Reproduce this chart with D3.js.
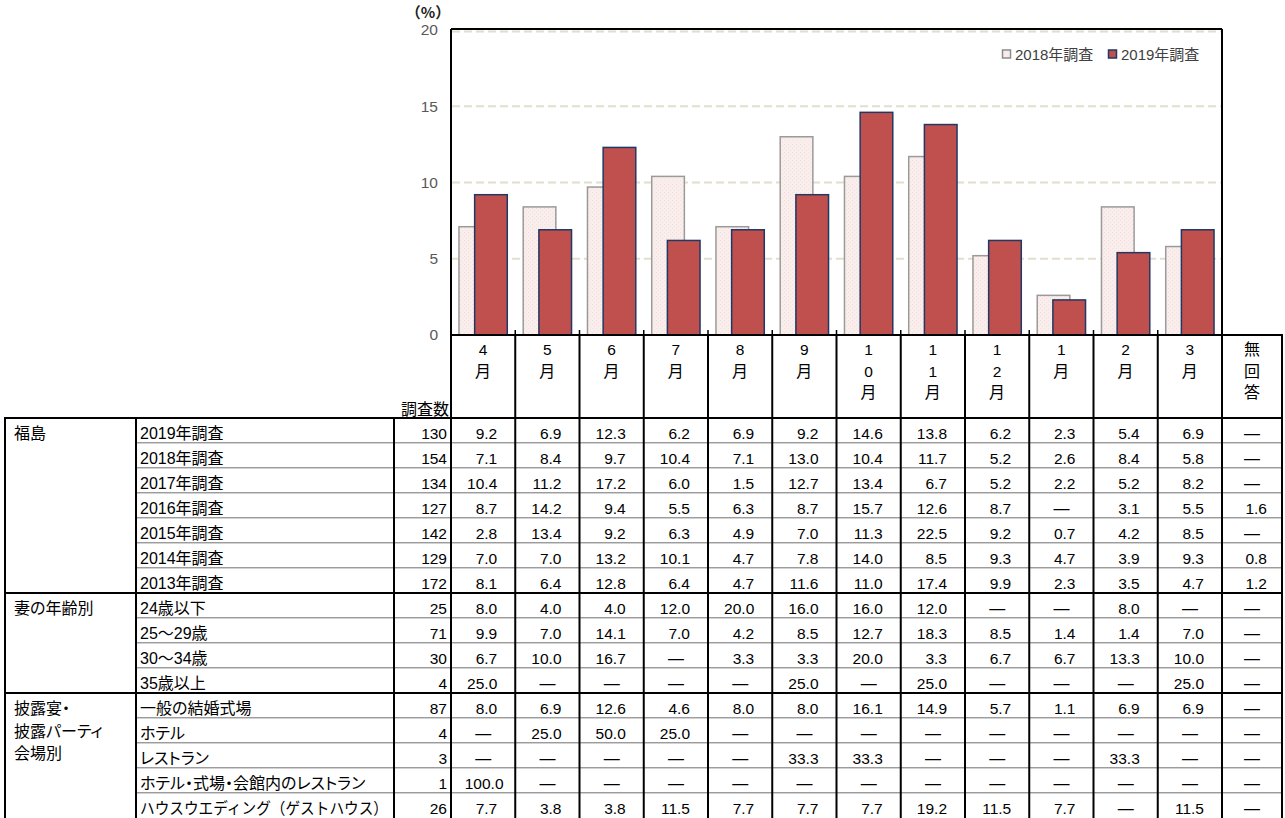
<!DOCTYPE html>
<html><head><meta charset="utf-8">
<script src="https://cdn.jsdelivr.net/npm/d3@7"></script>
<style>
body{margin:0;background:#fff}
svg{display:block}
text{font-family:"Liberation Sans","Noto Sans CJK JP",sans-serif;font-feature-settings:"palt";}
</style>
</head><body>
<svg id="c" width="1285" height="818"></svg>
<script>
// ---------------- data ----------------
const months = ["4月","5月","6月","7月","8月","9月","10月","11月","12月","1月","2月","3月"];
const headerLabels = [["4","月"],["5","月"],["6","月"],["7","月"],["8","月"],["9","月"],["1","0","月"],["1","1","月"],["1","2","月"],["1","月"],["2","月"],["3","月"],["無","回","答"]];
const seriesNames = ["2018年調査","2019年調査"];
const values2018 = [7.1, 8.4, 9.7, 10.4, 7.1, 13.0, 10.4, 11.7, 5.2, 2.6, 8.4, 5.8];
const values2019 = [9.2, 6.9, 12.3, 6.2, 6.9, 9.2, 14.6, 13.8, 6.2, 2.3, 5.4, 6.9];
const yTicks = [0, 5, 10, 15, 20];
const groupLabels = [["福島"], ["妻の年齢別"], ["披露宴・","披露パーティ","会場別"]];
const groupSizes = [7, 4, 5];
const rowLabels = ["2019年調査","2018年調査","2017年調査","2016年調査","2015年調査","2014年調査","2013年調査",
  "24歳以下","25～29歳","30～34歳","35歳以上",
  "一般の結婚式場","ホテル","レストラン","ホテル・式場・会館内のレストラン","ハウスウエディング（ゲストハウス）"];
const rowN = [130,154,134,127,142,129,172, 25,71,30,4, 87,4,3,1,26];
const _ = null;
const rowValues = [
  [9.2, 6.9, 12.3, 6.2, 6.9, 9.2, 14.6, 13.8, 6.2, 2.3, 5.4, 6.9, _],
  [7.1, 8.4, 9.7, 10.4, 7.1, 13.0, 10.4, 11.7, 5.2, 2.6, 8.4, 5.8, _],
  [10.4, 11.2, 17.2, 6.0, 1.5, 12.7, 13.4, 6.7, 5.2, 2.2, 5.2, 8.2, _],
  [8.7, 14.2, 9.4, 5.5, 6.3, 8.7, 15.7, 12.6, 8.7, _, 3.1, 5.5, 1.6],
  [2.8, 13.4, 9.2, 6.3, 4.9, 7.0, 11.3, 22.5, 9.2, 0.7, 4.2, 8.5, _],
  [7.0, 7.0, 13.2, 10.1, 4.7, 7.8, 14.0, 8.5, 9.3, 4.7, 3.9, 9.3, 0.8],
  [8.1, 6.4, 12.8, 6.4, 4.7, 11.6, 11.0, 17.4, 9.9, 2.3, 3.5, 4.7, 1.2],
  [8.0, 4.0, 4.0, 12.0, 20.0, 16.0, 16.0, 12.0, _, _, 8.0, _, _],
  [9.9, 7.0, 14.1, 7.0, 4.2, 8.5, 12.7, 18.3, 8.5, 1.4, 1.4, 7.0, _],
  [6.7, 10.0, 16.7, _, 3.3, 3.3, 20.0, 3.3, 6.7, 6.7, 13.3, 10.0, _],
  [25.0, _, _, _, _, 25.0, _, 25.0, _, _, _, 25.0, _],
  [8.0, 6.9, 12.6, 4.6, 8.0, 8.0, 16.1, 14.9, 5.7, 1.1, 6.9, 6.9, _],
  [_, 25.0, 50.0, 25.0, _, _, _, _, _, _, _, _, _],
  [_, _, _, _, _, 33.3, 33.3, _, _, _, 33.3, _, _],
  [100.0, _, _, _, _, _, _, _, _, _, _, _, _],
  [7.7, 3.8, 3.8, 11.5, 7.7, 7.7, 7.7, 19.2, 11.5, 7.7, _, 11.5, _]
];

// ---------------- layout ----------------
const svg = d3.select("#c");
const plotL = 451, plotR = 1222, yBase = 335, yTopPx = 30;
const naL = 1222, naR = 1282;
const tabL = 5, grpR = 136, nL = 394;
const tabTop = 418, rowH = 25, headTop = 335;

const x = d3.scaleBand().domain(months).range([plotL, plotR]).padding(0);
const y = d3.scaleLinear().domain([0, 20]).range([yBase, yTopPx]);
const bw = x.bandwidth();
const barW = bw * 0.508, barOff = bw * 0.244, span = barW + barOff;

const defs = svg.append("defs");
const pat = defs.append("pattern").attr("id","p18").attr("width",4).attr("height",4).attr("patternUnits","userSpaceOnUse");
pat.append("rect").attr("width",4).attr("height",4).attr("fill","#f9eeec");
pat.append("rect").attr("x",0).attr("y",0).attr("width",1).attr("height",1).attr("fill","#f1e0dd");
pat.append("rect").attr("x",2).attr("y",2).attr("width",1).attr("height",1).attr("fill","#f1e0dd");

// gridlines
svg.append("g").selectAll("line").data(yTicks.filter(d => d > 0)).join("line")
  .attr("x1", plotL + 1).attr("x2", plotR - 1)
  .attr("y1", d => y(d) + (d === 20 ? 1.5 : 0)).attr("y2", d => y(d) + (d === 20 ? 1.5 : 0))
  .attr("stroke", "#e2dece").attr("stroke-width", 2).attr("stroke-dasharray", "8,4");

// bars
const g18 = svg.append("g");
g18.selectAll("rect").data(values2018).join("rect")
  .attr("x", (d, i) => x(months[i]) + (bw - span) / 2)
  .attr("y", d => y(d)).attr("width", barW).attr("height", d => yBase - y(d))
  .attr("fill", "url(#p18)").attr("stroke", "#9a9a9a").attr("stroke-width", 1.5);
const g19 = svg.append("g");
g19.selectAll("rect").data(values2019).join("rect")
  .attr("x", (d, i) => x(months[i]) + (bw - span) / 2 + barOff)
  .attr("y", d => y(d)).attr("width", barW).attr("height", d => yBase - y(d))
  .attr("fill", "#c0504d").attr("stroke", "#1f3864").attr("stroke-width", 1.5);

// y axis labels
const yAxis = d3.axisLeft(y).tickValues(yTicks).tickSize(0).tickPadding(13).tickFormat(d3.format("d"));
const ya = svg.append("g").attr("transform", `translate(${plotL},0)`).call(yAxis);
ya.select(".domain").remove();
ya.selectAll("text").attr("font-size", 15.5).attr("fill", "#595959")
  .style("font-family", '"Liberation Sans",sans-serif');
svg.append("text").attr("x", 428).attr("y", 18).attr("text-anchor", "middle")
  .attr("font-size", 15).attr("font-weight", "bold").attr("fill", "#222")
  .style("font-family", '"Noto Sans CJK JP",sans-serif')
  .style("font-feature-settings", "normal").text("（%）");

// legend
const legX = [1002.5, 1108.5];
const leg = svg.append("g");
leg.selectAll("rect").data(seriesNames).join("rect")
  .attr("x", (d, i) => legX[i]).attr("y", 50).attr("width", 8).attr("height", 8)
  .attr("fill", (d, i) => i === 0 ? "#f8ecea" : "#c0504d")
  .attr("stroke", (d, i) => i === 0 ? "#8c8c8c" : "#1f3864").attr("stroke-width", 1.5);
leg.selectAll("text").data(seriesNames).join("text")
  .attr("x", (d, i) => legX[i] + 12.5).attr("y", 59.5)
  .attr("font-size", 15).attr("fill", "#404040").text(d => d);

// plot border, baseline and ticks
const K = "#000";
function line(x1, y1, x2, y2, w, c) {
  svg.append("line").attr("x1", x1).attr("y1", y1).attr("x2", x2).attr("y2", y2)
    .attr("stroke", c || K).attr("stroke-width", w || 2);
}
line(plotL, 29, plotR, 29, 2);
line(plotL, 29, plotL, 818, 2);
line(plotR, 29, plotR, 818, 2);
line(plotL, yBase, naR + 1, yBase, 2);
const bounds = months.map(m => x(m)).concat([plotR]);
svg.append("g").selectAll("line").data(bounds).join("line")
  .attr("x1", d => d).attr("x2", d => d).attr("y1", yBase - 5).attr("y2", yBase)
  .attr("stroke", K).attr("stroke-width", 1.5);

// ---------------- table ----------------
const nRows = rowLabels.length;
let groupStart = [];
{ let s = 0; groupSizes.forEach(n => { groupStart.push(s); s += n; }); }
const thinRows = d3.range(1, nRows).filter(r => !groupStart.includes(r));
const sep = svg.append("g");
thinRows.forEach(r => {
  const yy = tabTop + r * rowH;
  sep.append("line").attr("x1", grpR).attr("x2", naR).attr("y1", yy - 0.5).attr("y2", yy - 0.5).attr("stroke", "#9c9c9c").attr("stroke-width", 1);
  sep.append("line").attr("x1", grpR).attr("x2", naR).attr("y1", yy + 0.5).attr("y2", yy + 0.5).attr("stroke", "#d2d2d2").attr("stroke-width", 1);
});
line(tabL - 1, tabTop, naR + 1, tabTop, 2.2);
groupStart.slice(1).forEach(r => line(tabL - 1, tabTop + r * rowH, naR + 1, tabTop + r * rowH, 2.2));
[tabL, grpR, nL].forEach(xx => line(xx, tabTop, xx, 818, 2));
bounds.forEach(xx => line(xx, headTop, xx, 818, 2));
line(naR, headTop - 1, naR, 818, 2);

// header
const colL = months.map(m => x(m)).concat([naL]);
const colR = months.map(m => x(m) + bw).concat([naR]);
const hdr = svg.append("g");
headerLabels.forEach((lbl, i) => {
  const cx = (colL[i] + colR[i]) / 2;
  lbl.forEach((ch, j) => {
    hdr.append("text").attr("x", cx).attr("y", 355 + j * 21.7).attr("text-anchor", "middle")
      .attr("font-size", /\d/.test(ch) ? 15.5 : 16).attr("fill", "#000").text(ch);
  });
});
svg.append("text").attr("x", 449).attr("y", 415).attr("text-anchor", "end")
  .attr("font-size", 16).attr("fill", "#000").text("調査数");

// group labels
groupLabels.forEach((lines, gi) => {
  lines.forEach((t, j) => {
    svg.append("text").attr("x", 14).attr("y", tabTop + groupStart[gi] * rowH + 21 + j * 22.5)
      .attr("font-size", 16).attr("fill", "#000").text(t);
  });
});
// row labels, n, values
const body = svg.append("g");
rowLabels.forEach((t, r) => {
  const by = tabTop + r * rowH + 21;
  const tl = body.append("text").attr("x", 140).attr("y", by).attr("font-size", 16).attr("fill", "#000").text(t);
  if (t.includes("（")) tl.style("font-feature-settings", "normal");
  const len = tl.node().getComputedTextLength();
  const maxW = nL - 140 - 6;
  if (len > maxW) tl.attr("textLength", maxW).attr("lengthAdjust", "spacingAndGlyphs");
  body.append("text").attr("x", 447).attr("y", by).attr("text-anchor", "end")
    .attr("font-size", 15.5).attr("fill", "#000").text(rowN[r]);
  rowValues[r].forEach((v, c) => {
    const cx = (colL[c] + colR[c]) / 2;
    const pad = c === 12 ? 15 : 18;
    const t = body.append("text").attr("y", by).attr("fill", "#000");
    if (v === null) {
      t.attr("x", cx).attr("text-anchor", "middle").attr("font-size", 16).text("—");
    } else if (v >= 100) {
      t.attr("x", cx + 1).attr("text-anchor", "middle").attr("font-size", 15.5).text(v.toFixed(1));
    } else {
      t.attr("x", colR[c] - pad).attr("text-anchor", "end").attr("font-size", 15.5).text(v.toFixed(1));
    }
  });
});
</script>
</body></html>
